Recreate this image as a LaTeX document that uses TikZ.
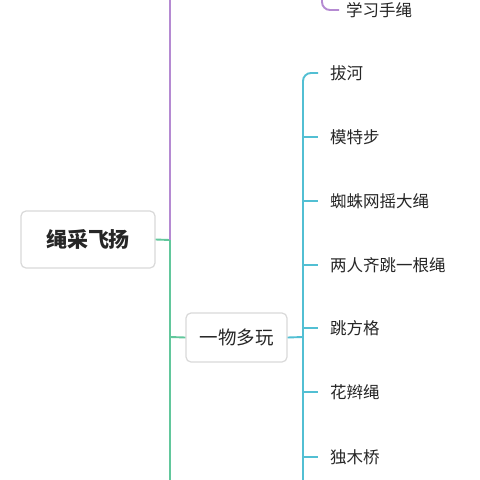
\documentclass[tikz,border=0pt]{standalone}
\usepackage{fontspec}
\setmainfont{Noto Sans CJK SC}
\newfontfamily\cjk{Noto Sans CJK SC}
\definecolor{purp}{HTML}{B58AD2}
\definecolor{grn}{HTML}{62C79C}
\definecolor{cyn}{HTML}{52BFD3}
\definecolor{boxline}{HTML}{D9D9D9}
\definecolor{txt}{HTML}{262626}
\tikzset{
  mainbox/.style={draw=boxline, line width=1.2pt, fill=white, rounded corners=5pt, inner sep=0pt, text=txt},
  leaf/.style={anchor=west, inner sep=0pt, text=txt, font=\cjk\fontsize{16.5}{19}\selectfont},
  purpline/.style={draw=purp, line width=1.9pt, rounded corners=8pt},
  grnline/.style={draw=grn, line width=1.9pt, rounded corners=8pt},
  cynline/.style={draw=cyn, line width=1.9pt, rounded corners=8pt},
}
\begin{document}
\begin{tikzpicture}[x=1pt,y=-1pt]
\useasboundingbox (0,0) rectangle (480,480);
\fill[white] (0,0) rectangle (480,480);

% coordinates of trunks
\coordinate (j) at (170,240);
\coordinate (ptop) at (170,0);
\coordinate (gbot) at (170,480);
\coordinate (g1) at (170,337);
\coordinate (c1) at (303,337);
\coordinate (cbot) at (303,480);
\coordinate (pt) at (322,0);

% nodes
\node[mainbox, minimum width=134pt, minimum height=57pt, font=\cjk\bfseries\fontsize{21}{25}\selectfont] (root) at (88,239.5) {绳采飞扬};
\node[mainbox, minimum width=101pt, minimum height=49pt, font=\cjk\fontsize{18.5}{22}\selectfont] (yw) at (236.5,337.5) {一物多玩};

\node[leaf] (xx) at (346,10) {学习手绳};
\node[leaf] (a1) at (330,73) {拔河};
\node[leaf] (a2) at (330,137) {模特步};
\node[leaf] (a3) at (330,201) {蜘蛛网摇大绳};
\node[leaf] (a4) at (330,265) {两人齐跳一根绳};
\node[leaf] (a5) at (330,328) {跳方格};
\node[leaf] (a6) at (330,392) {花辫绳};
\node[leaf] (a7) at (330,457) {独木桥};

% connectors
\draw[grnline] (root.east) -- (j);
\draw[purpline] (j) -- (ptop);
\draw[grnline] (j) -- (gbot);
\draw[grnline] (g1) -- (yw.west);
\draw[cynline] (yw.east) -- (c1);
\draw[purpline] (pt) |- ([xshift=-7pt]xx.west);
\draw[cynline] ([xshift=-12pt]a1.west) -| (cbot);
\foreach \n in {a2,a3,a4,a5,a6,a7}{
  \draw[cynline] (303,0 |- \n.west) -- ([xshift=-12pt]\n.west);
}
\end{tikzpicture}
\end{document}
